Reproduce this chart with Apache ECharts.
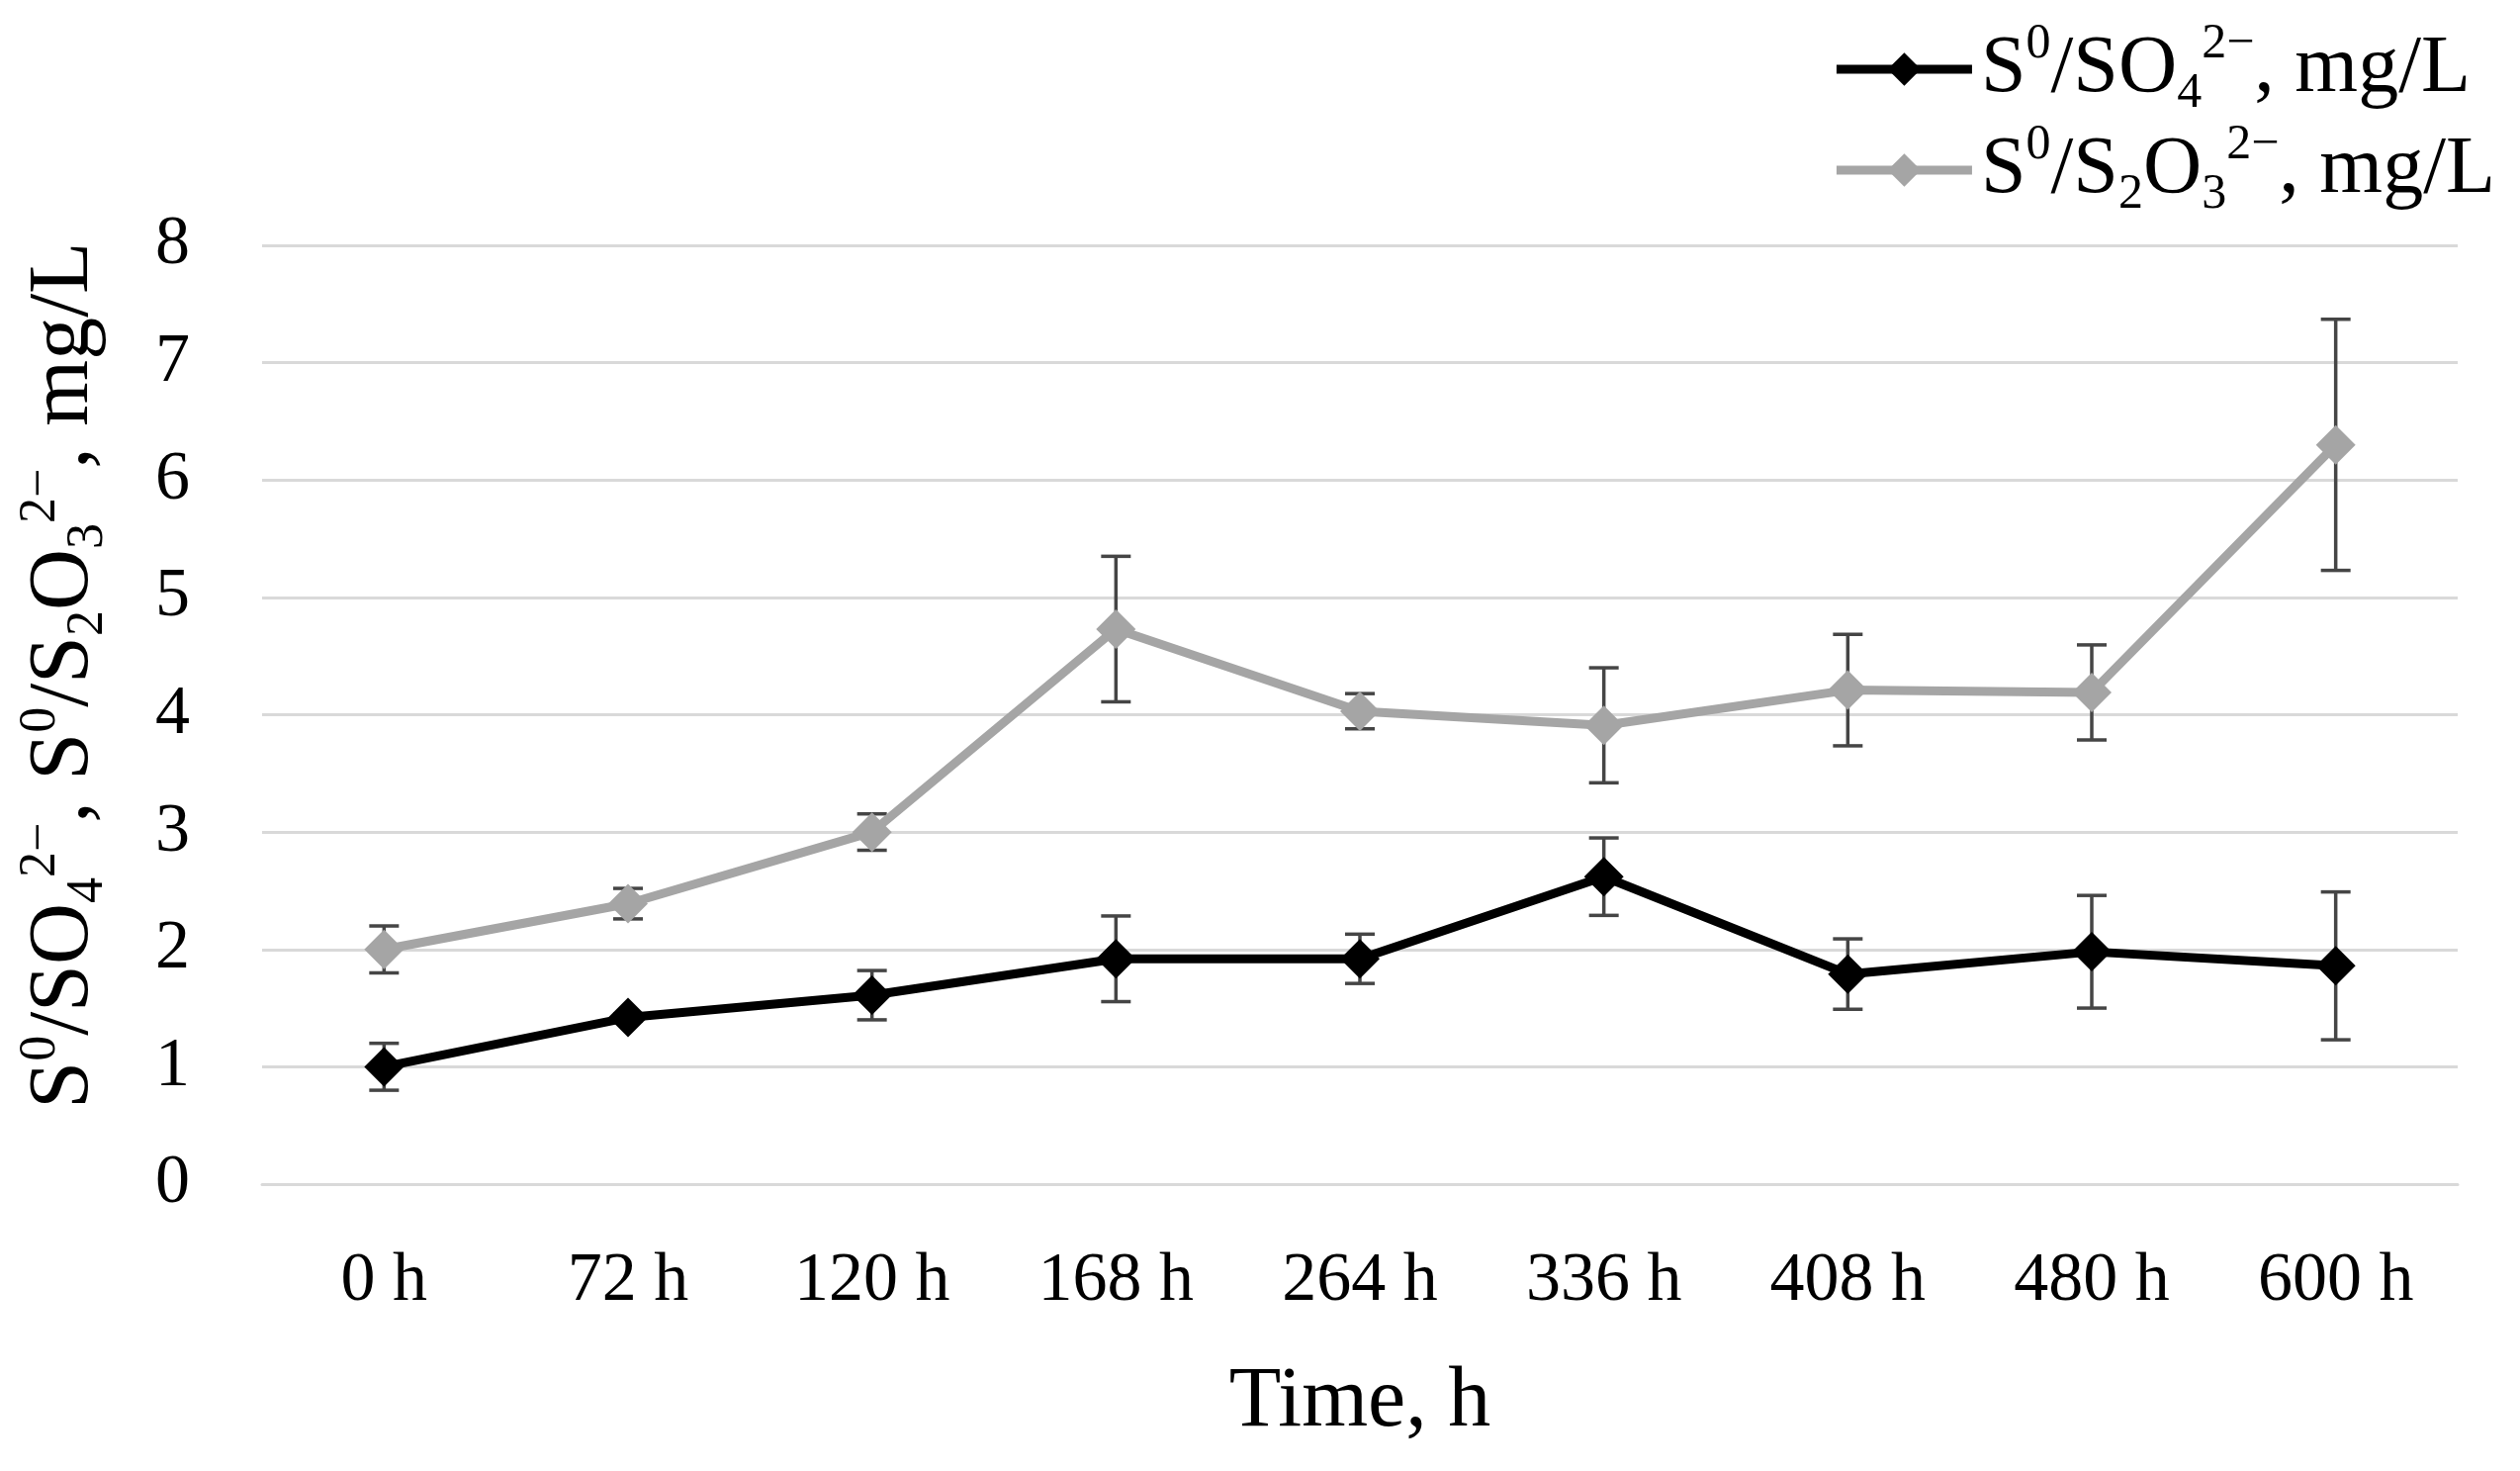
<!DOCTYPE html>
<html>
<head>
<meta charset="utf-8">
<script src="https://cdn.jsdelivr.net/npm/echarts@6/dist/echarts.min.js"></script>
<style>
html,body{margin:0;padding:0;background:#fff;}
#chart{width:2548px;height:1487px;}
</style>
</head>
<body>
<div id="chart"></div>
<script>
var categories = ['0 h', '72 h', '120 h', '168 h', '264 h', '336 h', '408 h', '480 h', '600 h'];
var so4Values = [1.0, 1.42, 1.61, 1.92, 1.92, 2.62, 1.79, 1.98, 1.86];
var so4Errors = [0.2, 0.03, 0.21, 0.365, 0.21, 0.33, 0.3, 0.48, 0.63];
var s2o3Values = [2.0, 2.39, 3.0, 4.73, 4.03, 3.91, 4.21, 4.19, 6.30];
var s2o3Errors = [0.2, 0.13, 0.155, 0.62, 0.15, 0.49, 0.475, 0.405, 1.07];
var yTicks = [0, 1, 2, 3, 4, 5, 6, 7, 8];

var nameSO4 = 'S⁰/SO₄²⁻, mg/L';
var nameS2O3 = 'S⁰/S₂O₃²⁻, mg/L';
var richSO4 = '{n|S}{sup|0}{n|/SO}{sub|4}{sup|2−}{n|, mg/L}';
var richS2O3 = '{n|S}{sup|0}{n|/S}{sub|2}{n|O}{sub|3}{sup|2−}{n|, mg/L}';
var richYName = '{n|S}{sup|0}{n|/SO}{sub|4}{sup|2−}{n|, S}{sup|0}{n|/S}{sub|2}{n|O}{sub|3}{sup|2−}{n|, mg/L}';

var FONT = '"Liberation Serif", "DejaVu Serif", serif';

function makeRich(main, script, lh) {
  return {
    n: {fontFamily: FONT, fontSize: main, color: '#000', lineHeight: lh, verticalAlign: 'middle'},
    sup: {fontFamily: FONT, fontSize: script, color: '#000', verticalAlign: 'top', lineHeight: script},
    sub: {fontFamily: FONT, fontSize: script, color: '#000', verticalAlign: 'bottom', lineHeight: script}
  };
}

function errData(vals, errs) {
  return vals.map(function (v, i) { return [i, v - errs[i], v + errs[i]]; });
}

function errRender(params, api) {
  var x = api.value(0);
  var lo = api.coord([x, api.value(1)]);
  var hi = api.coord([x, api.value(2)]);
  var hw = 15;
  var st = {stroke: '#454545', lineWidth: 3.5};
  return {
    type: 'group',
    children: [
      {type: 'line', shape: {x1: hi[0], y1: hi[1], x2: lo[0], y2: lo[1]}, style: st},
      {type: 'line', shape: {x1: hi[0] - hw, y1: hi[1], x2: hi[0] + hw, y2: hi[1]}, style: st},
      {type: 'line', shape: {x1: lo[0] - hw, y1: lo[1], x2: lo[0] + hw, y2: lo[1]}, style: st}
    ]
  };
}

var chart = echarts.init(document.getElementById('chart'));
chart.setOption({
  backgroundColor: '#fff',
  animation: false,
  grid: {left: 265, right: 63, top: 248, bottom: 290, containLabel: false},
  legend: {
    orient: 'vertical',
    right: 20,
    top: 15,
    align: 'left',
    itemWidth: 137,
    itemHeight: 42,
    itemGap: 2,
    data: [nameSO4, nameS2O3],
    lineStyle: {width: 9},
    formatter: function (name) { return name === nameSO4 ? richSO4 : richS2O3; },
    textStyle: {rich: makeRich(82, 50, 100), padding: [0, 0, 0, 4]}
  },
  xAxis: {
    type: 'category',
    data: categories,
    boundaryGap: true,
    axisLine: {show: true, lineStyle: {color: '#d9d9d9', width: 3}},
    axisTick: {show: false},
    axisLabel: {fontFamily: FONT, fontSize: 70, color: '#000', margin: 64},
    name: 'Time, h',
    nameLocation: 'middle',
    nameGap: 178,
    nameTextStyle: {fontFamily: FONT, fontSize: 86, color: '#000'}
  },
  yAxis: {
    type: 'value',
    min: 0,
    max: 8,
    interval: 1,
    axisLine: {show: false},
    axisTick: {show: false},
    splitLine: {show: true, lineStyle: {color: '#d9d9d9', width: 3}},
    axisLabel: {
      fontFamily: FONT, fontSize: 70, color: '#000', margin: 73,
      formatter: function (v) { return yTicks.indexOf(v) >= 0 ? String(v) : ''; }
    },
    name: richYName,
    nameLocation: 'middle',
    nameRotate: 90,
    nameGap: 150,
    nameTextStyle: {rich: makeRich(86, 52, 100), padding: [0, 0, 0, 80]}
  },
  series: [
    {
      type: 'custom',
      name: 'errSO4',
      renderItem: errRender,
      data: errData(so4Values, so4Errors),
      encode: {x: 0, y: [1, 2]},
      z: 1,
      silent: true
    },
    {
      type: 'custom',
      name: 'errS2O3',
      renderItem: errRender,
      data: errData(s2o3Values, s2o3Errors),
      encode: {x: 0, y: [1, 2]},
      z: 1,
      silent: true
    },
    {
      type: 'line',
      name: nameS2O3,
      data: s2o3Values,
      symbol: 'diamond',
      symbolSize: 40,
      lineStyle: {color: '#a5a5a5', width: 9},
      itemStyle: {color: '#a5a5a5'},
      z: 3
    },
    {
      type: 'line',
      name: nameSO4,
      data: so4Values,
      symbol: 'diamond',
      symbolSize: 40,
      lineStyle: {color: '#000', width: 9},
      itemStyle: {color: '#000'},
      z: 4
    }
  ]
});
</script>
</body>
</html>
